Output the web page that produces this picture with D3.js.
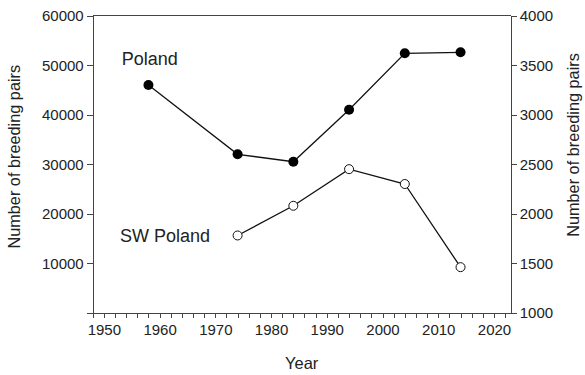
<!DOCTYPE html>
<html>
<head>
<meta charset="utf-8">
<script src="https://cdn.jsdelivr.net/npm/d3@7"></script>
<style>
  html, body { margin: 0; padding: 0; background: #fff; }
  svg { display: block; }
  text { font-family: "Liberation Sans", Arial, sans-serif; fill: #222; }
  .axis path, .axis line { stroke: #444; stroke-width: 1; shape-rendering: crispEdges; }
</style>
</head>
<body>
<svg id="chart" width="585" height="375"></svg>
<script>
// Survey years and breeding-pair counts
const years = [1958, 1974, 1984, 1994, 2004, 2014];
const polandPairs = [46000, 32000, 30500, 41000, 52400, 52600];
const swYears = [1974, 1984, 1994, 2004, 2014];
const swPolandPairs = [1780, 2080, 2450, 2300, 1460];

const xTicks = d3.range(1948, 2023, 2);
const leftTicks = [0, 10000, 20000, 30000, 40000, 50000, 60000];
const rightTicks = [1000, 1500, 2000, 2500, 3000, 3500, 4000];

const svg = d3.select("#chart");
const plot = { left: 92.7, right: 510.7, top: 15.7, bottom: 312.7 };

const x = d3.scaleLinear().domain([1948, 2023]).range([plot.left, plot.right]);
const yLeft = d3.scaleLinear().domain([0, 60000]).range([plot.bottom, plot.top]);
const yRight = d3.scaleLinear().domain([1000, 4000]).range([plot.bottom, plot.top]);

// top frame line
svg.append("line")
  .attr("x1", plot.left).attr("x2", plot.right)
  .attr("y1", plot.top).attr("y2", plot.top)
  .attr("stroke", "#444").attr("shape-rendering", "crispEdges");

// x axis: ticks every two years, labels at decades
const xAxis = svg.append("g").attr("class", "axis")
  .attr("transform", `translate(0,${plot.bottom})`)
  .call(d3.axisBottom(x).tickValues(xTicks).tickSize(5).tickSizeOuter(0)
    .tickFormat(d => d % 10 === 0 ? d : ""));
xAxis.selectAll("text").attr("font-size", 15).attr("dy", "0.95em");

// left axis
const lAxis = svg.append("g").attr("class", "axis")
  .attr("transform", `translate(${plot.left},0)`)
  .call(d3.axisLeft(yLeft).tickValues(leftTicks).tickSize(6).tickSizeOuter(0)
    .tickFormat(d => d === 0 ? "" : d));
lAxis.selectAll("text").attr("font-size", 15).attr("x", -9);

// right axis
const rAxis = svg.append("g").attr("class", "axis")
  .attr("transform", `translate(${plot.right},0)`)
  .call(d3.axisRight(yRight).tickValues(rightTicks).tickSize(6).tickSizeOuter(0)
    .tickFormat(d => d));
rAxis.selectAll("text").attr("font-size", 15).attr("x", 9);

svg.selectAll(".axis .domain").attr("stroke", "#444");

// axis titles
svg.append("text")
  .attr("transform", "translate(20,156.7) rotate(-90)")
  .attr("text-anchor", "middle").attr("font-size", 16.3)
  .text("Number of breeding pairs");
svg.append("text")
  .attr("transform", "translate(578.5,145) rotate(-90)")
  .attr("text-anchor", "middle").attr("font-size", 16.3)
  .text("Number of breeding pairs");
svg.append("text")
  .attr("x", 301.7).attr("y", 369)
  .attr("text-anchor", "middle").attr("font-size", 16.5)
  .text("Year");

// Poland series (left axis)
const polandData = years.map((yr, i) => ({ yr, v: polandPairs[i] }));
svg.append("path")
  .datum(polandData)
  .attr("fill", "none").attr("stroke", "#111").attr("stroke-width", 1.3)
  .attr("d", d3.line().x(d => x(d.yr)).y(d => yLeft(d.v)));
svg.selectAll(".pl-pt").data(polandData).enter().append("circle")
  .attr("class", "pl-pt")
  .attr("cx", d => x(d.yr)).attr("cy", d => yLeft(d.v))
  .attr("r", 5).attr("fill", "#000");

// SW Poland series (right axis)
const swData = swYears.map((yr, i) => ({ yr, v: swPolandPairs[i] }));
svg.append("path")
  .datum(swData)
  .attr("fill", "none").attr("stroke", "#111").attr("stroke-width", 1.3)
  .attr("d", d3.line().x(d => x(d.yr)).y(d => yRight(d.v)));
svg.selectAll(".sw-pt").data(swData).enter().append("circle")
  .attr("class", "sw-pt")
  .attr("cx", d => x(d.yr)).attr("cy", d => yRight(d.v))
  .attr("r", 4.5).attr("fill", "#fff").attr("stroke", "#111").attr("stroke-width", 1);

// series labels
svg.append("text").attr("x", 121.7).attr("y", 65).attr("font-size", 18).text("Poland");
svg.append("text").attr("x", 120).attr("y", 242).attr("font-size", 18).text("SW Poland");
</script>
</body>
</html>
